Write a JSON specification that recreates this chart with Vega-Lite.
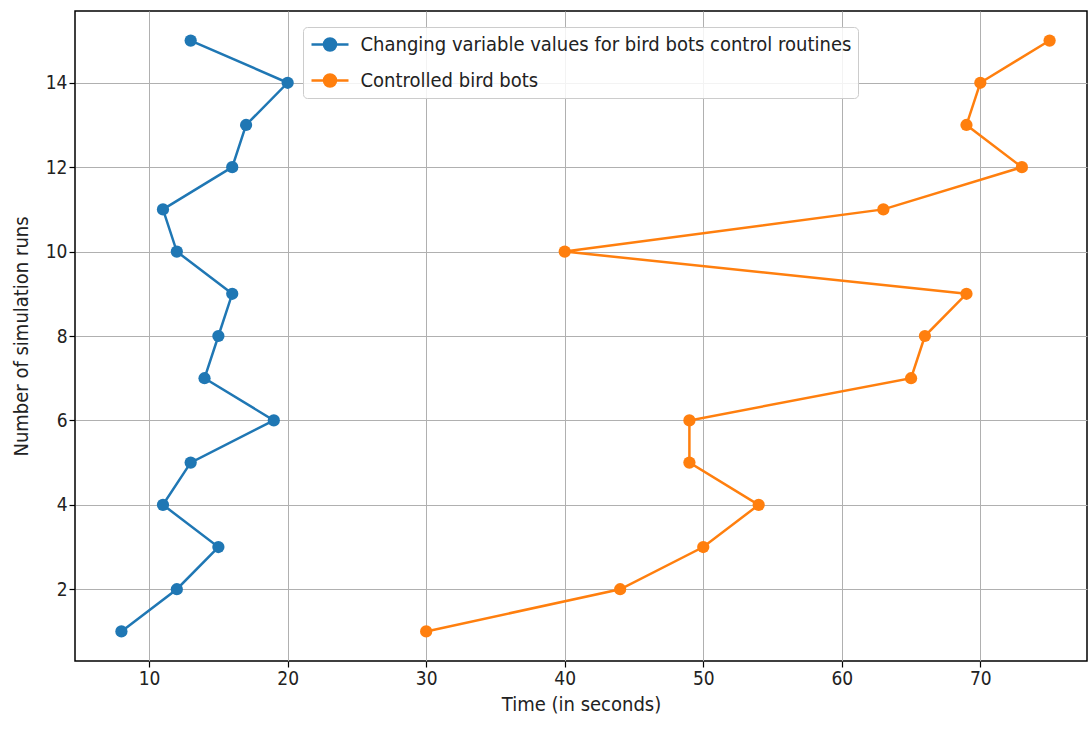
{
  "$schema": "https://vega.github.io/schema/vega-lite/v6.json",
  "autosize": {"type": "none"},
  "padding": {"left": 75, "top": 11, "right": 1, "bottom": 72},
  "width": 1012,
  "height": 650,
  "config": {
    "font": "DejaVu Sans Condensed",
    "view": {"stroke": "#000000", "strokeWidth": 1.5},
    "axis": {
      "grid": true,
      "gridColor": "#b0b0b0",
      "gridWidth": 1,
      "domain": false,
      "tickColor": "#000000",
      "tickSize": 6,
      "tickWidth": 1.2,
      "labelFont": "DejaVu Sans Condensed",
      "labelFontSize": 19,
      "labelColor": "#222222",
      "titleFont": "DejaVu Sans Condensed",
      "titleFontSize": 20,
      "titleFontWeight": "normal",
      "titleColor": "#222222"
    }
  },
  "data": {
    "values": [
      {"series": "Changing variable values for bird bots control routines", "run": 1, "time": 8},
      {"series": "Changing variable values for bird bots control routines", "run": 2, "time": 12},
      {"series": "Changing variable values for bird bots control routines", "run": 3, "time": 15},
      {"series": "Changing variable values for bird bots control routines", "run": 4, "time": 11},
      {"series": "Changing variable values for bird bots control routines", "run": 5, "time": 13},
      {"series": "Changing variable values for bird bots control routines", "run": 6, "time": 19},
      {"series": "Changing variable values for bird bots control routines", "run": 7, "time": 14},
      {"series": "Changing variable values for bird bots control routines", "run": 8, "time": 15},
      {"series": "Changing variable values for bird bots control routines", "run": 9, "time": 16},
      {"series": "Changing variable values for bird bots control routines", "run": 10, "time": 12},
      {"series": "Changing variable values for bird bots control routines", "run": 11, "time": 11},
      {"series": "Changing variable values for bird bots control routines", "run": 12, "time": 16},
      {"series": "Changing variable values for bird bots control routines", "run": 13, "time": 17},
      {"series": "Changing variable values for bird bots control routines", "run": 14, "time": 20},
      {"series": "Changing variable values for bird bots control routines", "run": 15, "time": 13},
      {"series": "Controlled bird bots", "run": 1, "time": 30},
      {"series": "Controlled bird bots", "run": 2, "time": 44},
      {"series": "Controlled bird bots", "run": 3, "time": 50},
      {"series": "Controlled bird bots", "run": 4, "time": 54},
      {"series": "Controlled bird bots", "run": 5, "time": 49},
      {"series": "Controlled bird bots", "run": 6, "time": 49},
      {"series": "Controlled bird bots", "run": 7, "time": 65},
      {"series": "Controlled bird bots", "run": 8, "time": 66},
      {"series": "Controlled bird bots", "run": 9, "time": 69},
      {"series": "Controlled bird bots", "run": 10, "time": 40},
      {"series": "Controlled bird bots", "run": 11, "time": 63},
      {"series": "Controlled bird bots", "run": 12, "time": 73},
      {"series": "Controlled bird bots", "run": 13, "time": 69},
      {"series": "Controlled bird bots", "run": 14, "time": 70},
      {"series": "Controlled bird bots", "run": 15, "time": 75}
    ]
  },
  "encoding": {
    "x": {
      "field": "time", "type": "quantitative",
      "scale": {"domain": [4.65, 77.7], "nice": false, "zero": false},
      "axis": {"values": [10, 20, 30, 40, 50, 60, 70], "title": "Time (in seconds)", "titlePadding": 6}
    },
    "y": {
      "field": "run", "type": "quantitative",
      "scale": {"domain": [0.3, 15.7], "nice": false, "zero": false},
      "axis": {"values": [2, 4, 6, 8, 10, 12, 14], "title": "Number of simulation runs", "titlePadding": 14}
    },
    "color": {
      "field": "series", "type": "nominal",
      "scale": {
        "domain": ["Changing variable values for bird bots control routines", "Controlled bird bots"],
        "range": ["#1f77b4", "#ff7f0e"]
      },
      "legend": {
        "title": null,
        "orient": "none",
        "legendX": 228,
        "legendY": 16,
        "symbolType": "M-1.85,0L-0.6,0M0.6,0L1.85,0M-0.6,0A0.6,0.6 0 1,0 0.6,0A0.6,0.6 0 1,0 -0.6,0",
        "symbolSize": 400,
        "symbolStrokeWidth": 2.5,
        "symbolOffset": 9.5,
        "labelFontSize": 20,
        "labelLimit": 0,
        "labelColor": "#222222",
        "labelFont": "DejaVu Sans Condensed",
        "rowPadding": 13,
        "padding": 6,
        "fillColor": "rgba(255,255,255,0.85)",
        "strokeColor": "#cccccc",
        "cornerRadius": 4,
        "labelOffset": 19
      }
    }
  },
  "layer": [
    {
      "mark": {"type": "line", "strokeWidth": 2.5},
      "encoding": {"order": {"field": "run", "type": "quantitative"}}
    },
    {
      "mark": {"type": "point", "filled": true, "opacity": 1, "size": 150}
    }
  ]
}
